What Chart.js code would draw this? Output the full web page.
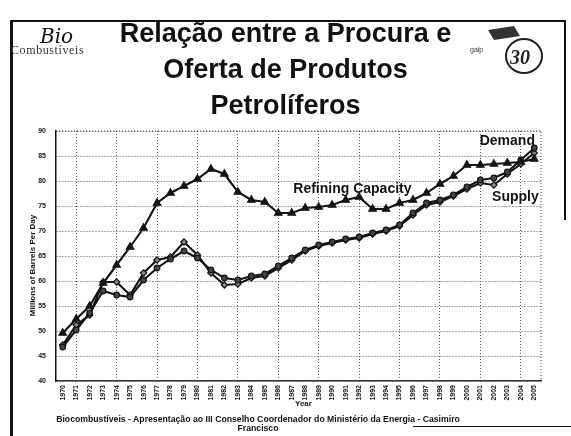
<!DOCTYPE html>
<html>
<head>
<meta charset="utf-8">
<script src="https://cdn.jsdelivr.net/npm/chart.js@4.4.1/dist/chart.umd.min.js"></script>
<style>
  html, body { margin: 0; padding: 0; background: #fff; }
  body { width: 571px; height: 436px; position: relative; overflow: hidden; font-family: "Liberation Sans", Arial, sans-serif; color: #111; }
  #chart { position: absolute; left: 0; top: 0; }
  .line { position: absolute; background: #111; }
  .title { position: absolute; left: 0; width: 571px; text-align: center; font-weight: bold; font-size: 27px; line-height: 30px; }
  .small { position: absolute; font-weight: bold; white-space: nowrap; }
  .logo-bio { position: absolute; left: 40px; top: 24px; font-family: "DejaVu Serif", serif; font-style: italic; font-size: 20px; }
  .logo-comb { position: absolute; left: 11px; top: 43px; font-family: "Liberation Serif", serif; font-size: 12px; letter-spacing: 0.6px; color: #333; }
</style>
</head>
<body>
<canvas id="chart" width="571" height="436"></canvas>

<!-- slide frame -->
<div class="line" style="left:10px; top:21px; width:3px; height:415px;"></div>
<div class="line" style="left:10px; top:20px; width:555px; height:2px;"></div>
<div class="line" style="left:564px; top:20px; width:2px; height:200px;"></div>
<div class="line" style="left:413px; top:426px; width:158px; height:1px;"></div>

<div class="logo-bio">Bio</div>
<div class="logo-comb">Combustíveis</div>
<svg style="position:absolute; left:466px; top:24px;" width="80" height="54">
  <path d="M22 6 L48 2 L54 12 L28 16 Z" fill="#333"/>
  <ellipse cx="58" cy="32" rx="18" ry="17" fill="none" stroke="#222" stroke-width="2"/>
  <text x="4" y="28" font-size="7" font-family="Liberation Sans" fill="#333">galp</text>
  <text x="44" y="40" font-size="20" font-style="italic" font-weight="bold" font-family="Liberation Serif" fill="#222">30</text>
</svg>

<div class="title" style="top:18px;">Relação entre a Procura e</div>
<div class="title" style="top:54px;">Oferta de Produtos</div>
<div class="title" style="top:90px;">Petrolíferos</div>

<div class="small" style="left:-30px; top:261px; font-size:8px; transform:rotate(-90deg); width:124px; text-align:center;">Millions of Barrels Per Day</div>
<div class="small" style="left:295px; top:399px; font-size:8px;">Year</div>
<div class="small" style="left:0; width:516px; text-align:center; top:414px; font-size:8.7px;">Biocombustíveis - Apresentação ao III Conselho Coordenador do Ministério da Energia - Casimiro</div>
<div class="small" style="left:0; width:516px; text-align:center; top:423px; font-size:8.7px;">Francisco</div>

<script>
const years = [
  '1970', '1971', '1972', '1973', '1974', '1975', '1976', '1977', '1978', '1979',
  '1980', '1981', '1982', '1983', '1984', '1985', '1986', '1987', '1988', '1989',
  '1990', '1991', '1992', '1993', '1994', '1995', '1996', '1997', '1998', '1999',
  '2000', '2001', '2002', '2003', '2004', '2005'
];

const refiningCapacity = [
  49.6, 52.4, 55.0, 59.6, 63.2, 66.8, 70.6, 75.6, 77.6, 79.0,
  80.4, 82.4, 81.4, 77.8, 76.2, 75.8, 73.6, 73.6, 74.6, 74.8,
  75.2, 76.2, 76.8, 74.4, 74.4, 75.6, 76.2, 77.6, 79.4, 81.0,
  83.2, 83.2, 83.4, 83.6, 83.8, 84.4
];

const demand = [
  46.8, 50.2, 53.6, 58.0, 57.2, 56.8, 60.2, 62.6, 64.4, 66.0,
  64.6, 62.2, 60.6, 60.2, 61.0, 61.4, 63.0, 64.6, 66.2, 67.2,
  67.8, 68.4, 68.8, 69.6, 70.2, 71.2, 73.6, 75.6, 76.2, 77.2,
  78.8, 80.2, 80.6, 81.8, 84.2, 86.6
];

const supply = [
  47.2, 51.2, 53.2, 59.8, 59.8, 57.2, 61.6, 64.2, 64.8, 67.8,
  65.2, 61.6, 59.2, 59.4, 60.6, 61.0, 62.6, 64.2, 66.0, 67.0,
  67.6, 68.2, 68.6, 69.4, 70.0, 71.0, 73.2, 75.2, 75.8, 77.0,
  78.4, 79.6, 79.2, 81.4, 83.4, 85.6
];

const yTicks = [40, 45, 50, 55, 60, 65, 70, 75, 80, 85, 90];

// series names written inside the plot, placed in data units
const seriesLabels = [
  { text: 'Refining Capacity', at: 21.5, value: 78.3 },
  { text: 'Demand', at: 33.0, value: 88.0 },
  { text: 'Supply', at: 33.6, value: 76.8 }
];

const ink = '#141414';

function series(label, data, style, radius, fill) {
  return {
    label: label,
    data: data,
    borderColor: ink,
    borderWidth: 2.1,
    pointStyle: style,
    pointRadius: radius,
    pointBackgroundColor: fill,
    pointBorderColor: ink,
    pointBorderWidth: 1.2,
    tension: 0,
    fill: false
  };
}

const labelPlugin = {
  id: 'seriesLabels',
  afterDraw(chart) {
    const { ctx, chartArea, scales } = chart;
    // dotted frame on top and right of the plot
    ctx.save();
    ctx.strokeStyle = '#444';
    ctx.lineWidth = 1;
    ctx.setLineDash([1, 2]);
    ctx.beginPath();
    ctx.moveTo(chartArea.left, chartArea.top);
    ctx.lineTo(chartArea.right, chartArea.top);
    ctx.lineTo(chartArea.right, chartArea.bottom);
    ctx.stroke();
    ctx.setLineDash([]);

    ctx.fillStyle = ink;
    ctx.font = 'bold 14px "Liberation Sans", Arial, sans-serif';
    ctx.textAlign = 'center';
    ctx.textBaseline = 'middle';
    seriesLabels.forEach(l => {
      ctx.fillText(l.text, scales.x.getPixelForValue(l.at), scales.y.getPixelForValue(l.value));
    });
    ctx.restore();
  }
};

const ctx = document.getElementById('chart').getContext('2d');
new Chart(ctx, {
  type: 'line',
  data: {
    labels: years,
    datasets: [
      series('Refining Capacity', refiningCapacity, 'triangle', 4.3, ink),
      series('Demand', demand, 'circle', 2.8, '#444'),
      series('Supply', supply, 'rectRot', 3.2, '#888')
    ]
  },
  options: {
    responsive: false,
    animation: false,
    layout: { padding: { top: 131, right: 30, left: 0, bottom: 0 } },
    plugins: {
      legend: { display: false },
      tooltip: { enabled: false }
    },
    scales: {
      x: {
        offset: true,
        grid: {
          drawTicks: false,
          color: c => (c.index % 3 === 1 ? '#555' : 'rgba(0,0,0,0)'),
          lineWidth: 1
        },
        border: { display: true, color: '#333', width: 1.5, dash: [1, 2] },
        ticks: {
          autoSkip: false,
          maxRotation: 90,
          minRotation: 90,
          padding: 4,
          color: ink,
          font: { size: 7, weight: 'bold', family: '"Liberation Sans", Arial, sans-serif' }
        },
        afterFit: s => { s.height = 55; }
      },
      y: {
        min: 40,
        max: 90,
        afterBuildTicks: s => { s.ticks = yTicks.map(v => ({ value: v })); },
        grid: { drawTicks: false, color: '#555', lineWidth: 1 },
        border: { display: true, color: ink, width: 1.5, dash: [1, 2] },
        ticks: {
          padding: 10,
          color: ink,
          font: { size: 7, weight: 'bold', family: '"Liberation Sans", Arial, sans-serif' }
        },
        afterFit: s => { s.width = 56; }
      }
    }
  },
  plugins: [labelPlugin]
});
</script>
</body>
</html>
